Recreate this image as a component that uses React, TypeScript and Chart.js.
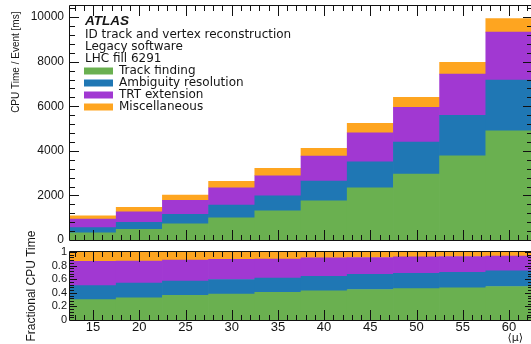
import React, { useEffect, useRef } from "react";
import { Chart, registerables } from "chart.js";

Chart.register(...registerables);

// ---- data ----
const muCenters = [15, 20, 25, 30, 35, 40, 45, 50, 55, 60];
const trackFinding = [327, 480, 731, 1000, 1314, 1762, 2345, 2959, 3780, 4901];
const ambiguityResolution = [225, 314, 421, 569, 668, 884, 1166, 1435, 1812, 2273];
const trtExtension = [390, 475, 628, 776, 901, 1121, 1300, 1556, 1851, 2153];
const miscellaneous = [148, 197, 238, 287, 332, 345, 422, 449, 525, 614];

const seriesNames = ["Track finding", "Ambiguity resolution", "TRT extension", "Miscellaneous"];
const seriesColors = ["#6ab050", "#1f77b4", "#a138d2", "#fea520"];
const experimentLabel = "ATLAS";
const infoLines = ["ID track and vertex reconstruction", "Legacy software", "LHC fill 6291"];
const topTitle = "CPU Time / Event [ms]";
const bottomTitle = "Fractional CPU Time";
const xTitle = "\u27E8\u03BC\u27E9";

const xTickValues = [15, 20, 25, 30, 35, 40, 45, 50, 55, 60];
const topYTickValues = [0, 2000, 4000, 6000, 8000, 10000];
const botYTickValues = [0, 0.2, 0.4, 0.6, 0.8, 1];

const muMin = 12.5;
const muMax = 62.5;
const topMax = 10500;

const allSeries = [trackFinding, ambiguityResolution, trtExtension, miscellaneous];
const totals = muCenters.map((_, j) => allSeries.reduce((s, arr) => s + arr[j], 0));

const TEXT = "#151515";

function makeFramePlugin(cfg: any) {
  return {
    id: "rootFrame",
    afterDatasetsDraw(chart: any) {
      const { ctx, chartArea: a, scales } = chart;
      const xs = scales.x;
      const ys = scales.y;
      ctx.save();
      ctx.strokeStyle = "#111";
      ctx.lineWidth = 1;
      ctx.beginPath();
      const kx0 = Math.ceil(xs.min / cfg.xStep - 1e-9);
      const kx1 = Math.floor(xs.max / cfg.xStep + 1e-9);
      for (let k = kx0; k <= kx1; k++) {
        const v = k * cfg.xStep;
        const px = Math.round(xs.getPixelForValue(v)) + 0.5;
        const len = k % cfg.xEvery === 0 ? cfg.xMajor : cfg.xMinor;
        ctx.moveTo(px, a.bottom);
        ctx.lineTo(px, a.bottom - len);
        ctx.moveTo(px, a.top);
        ctx.lineTo(px, a.top + len);
      }
      const ky0 = Math.ceil(ys.min / cfg.yStep - 1e-9);
      const ky1 = Math.floor(ys.max / cfg.yStep + 1e-9);
      for (let k = ky0; k <= ky1; k++) {
        const v = k * cfg.yStep;
        const py = Math.round(ys.getPixelForValue(v)) + 0.5;
        const len = k % cfg.yEvery === 0 ? cfg.yMajor : cfg.yMinor;
        ctx.moveTo(a.left, py);
        ctx.lineTo(a.left + len, py);
        ctx.moveTo(a.right, py);
        ctx.lineTo(a.right - len, py);
      }
      const l = Math.round(a.left) - 0.5;
      const r = Math.round(a.right) - 0.5;
      const t = Math.round(a.top) - 0.5;
      const b = Math.round(a.bottom) + 0.5;
      ctx.moveTo(l, t);
      ctx.lineTo(r, t);
      ctx.moveTo(l, b);
      ctx.lineTo(r, b);
      ctx.moveTo(l, t);
      ctx.lineTo(l, b);
      ctx.moveTo(r, t);
      ctx.lineTo(r, b);
      ctx.stroke();
      ctx.restore();
    },
  };
}

const infoPlugin = {
  id: "infoText",
  afterDraw(chart: any) {
    const { ctx, chartArea: a } = chart;
    ctx.save();
    ctx.fillStyle = TEXT;
    ctx.textAlign = "left";
    ctx.textBaseline = "alphabetic";
    ctx.font = 'italic bold 13.5px "Liberation Sans"';
    ctx.fillText(experimentLabel, a.left + 15, a.top + 19);
    ctx.font = '12px "DejaVu Sans"';
    infoLines.forEach((t, i) => ctx.fillText(t, a.left + 15, a.top + 31.5 + i * 12));
    ctx.restore();
  },
};

const legendPlacePlugin = {
  id: "legendPlace",
  beforeDraw(chart: any) {
    const lg = chart.legend;
    if (lg) {
      lg.left = chart.chartArea.left + 14;
      lg.top = chart.chartArea.top + 59;
    }
  },
};

const xTitlePlugin = {
  id: "xTitle",
  afterDraw(chart: any) {
    const { ctx, chartArea: a } = chart;
    ctx.save();
    ctx.fillStyle = TEXT;
    ctx.font = '11px "DejaVu Sans"';
    ctx.textAlign = "right";
    ctx.textBaseline = "middle";
    ctx.fillText(xTitle, a.right - 9, a.bottom + 18);
    ctx.restore();
  },
};

const tickFont = (size: number) => ({ family: "Liberation Sans", size });
const setTicks = (values: number[]) => (s: any) => {
  s.ticks = values.map((value) => ({ value }));
};

export default function App() {
  const topRef = useRef<HTMLCanvasElement>(null);
  const botRef = useRef<HTMLCanvasElement>(null);

  useEffect(() => {
    const topDatasets = allSeries.map((vals, i) => ({
      label: seriesNames[i],
      data: muCenters.map((x, j) => ({ x, y: vals[j] })),
      backgroundColor: seriesColors[i],
      borderWidth: 0,
      barPercentage: 1,
      categoryPercentage: 1,
      stack: "s",
    }));
    const botDatasets = allSeries.map((vals, i) => ({
      label: seriesNames[i],
      data: muCenters.map((x, j) => ({ x, y: vals[j] / totals[j] })),
      backgroundColor: seriesColors[i],
      borderWidth: 0,
      barPercentage: 1,
      categoryPercentage: 1,
      stack: "s",
    }));

    const top = new Chart(topRef.current as HTMLCanvasElement, {
      type: "bar",
      data: { datasets: topDatasets as any },
      options: {
        responsive: false,
        animation: false,
        devicePixelRatio: 1,
        layout: { padding: { top: 6, bottom: 8, left: 0, right: 0 } },
        scales: {
          x: {
            type: "linear",
            min: muMin,
            max: muMax,
            offset: false,
            stacked: true,
            grid: { display: false, drawTicks: false, offset: false },
            border: { display: false },
            ticks: { display: false },
            afterBuildTicks: setTicks(xTickValues),
            afterFit: (s: any) => {
              s.height = 0;
              s.paddingLeft = 0;
              s.paddingRight = 0;
            },
          } as any,
          y: {
            type: "linear",
            min: 0,
            max: topMax,
            stacked: true,
            grid: { display: false, drawTicks: false },
            border: { display: false },
            afterBuildTicks: setTicks(topYTickValues),
            ticks: {
              padding: 6,
              color: TEXT,
              font: tickFont(12),
              autoSkip: false,
              callback: (v: any) => String(v),
            },
            title: {
              display: true,
              text: topTitle + "  ",
              align: "end",
              color: TEXT,
              font: { family: "Liberation Sans", size: 10 },
              padding: { top: 10, bottom: 0 },
            },
            afterFit: (s: any) => {
              s.width = 70;
              s.paddingTop = 0;
              s.paddingBottom = 0;
            },
          } as any,
        },
        plugins: {
          legend: {
            display: true,
            position: "chartArea" as any,
            align: "start",
            labels: {
              boxWidth: 29,
              boxHeight: 7,
              padding: 0,
              color: TEXT,
              font: { family: "DejaVu Sans", size: 12 },
            },
          },
          tooltip: { enabled: false },
        },
      },
      plugins: [
        makeFramePlugin({ xStep: 1, xEvery: 5, xMajor: 10, xMinor: 5, yStep: 400, yEvery: 5, yMajor: 9, yMinor: 5 }),
        infoPlugin,
        legendPlacePlugin,
      ],
    });

    const bot = new Chart(botRef.current as HTMLCanvasElement, {
      type: "bar",
      data: { datasets: botDatasets as any },
      options: {
        responsive: false,
        animation: false,
        devicePixelRatio: 1,
        layout: { padding: { top: 32, bottom: 0, left: 0, right: 0 } },
        scales: {
          x: {
            type: "linear",
            min: muMin,
            max: muMax,
            offset: false,
            stacked: true,
            grid: { display: false, drawTicks: false, offset: false },
            border: { display: false },
            afterBuildTicks: setTicks(xTickValues),
            ticks: {
              padding: 0,
              maxRotation: 0,
              autoSkip: false,
              color: TEXT,
              font: tickFont(13),
              callback: (v: any) => String(v),
            },
            afterFit: (s: any) => {
              s.height = 24;
              s.paddingLeft = 0;
              s.paddingRight = 0;
            },
          } as any,
          y: {
            type: "linear",
            min: 0,
            max: 1,
            stacked: true,
            grid: { display: false, drawTicks: false },
            border: { display: false },
            afterBuildTicks: setTicks(botYTickValues),
            ticks: {
              padding: 3,
              color: TEXT,
              autoSkip: false,
              font: tickFont(11),
              callback: (v: any) => String(Math.round(v * 10) / 10),
            },
            title: {
              display: true,
              text: bottomTitle,
              align: "center",
              color: TEXT,
              font: { family: "Liberation Sans", size: 12 },
              padding: { top: 24, bottom: 0 },
            },
            afterFit: (s: any) => {
              s.width = 70;
              s.paddingTop = 0;
              s.paddingBottom = 0;
            },
          } as any,
        },
        plugins: {
          legend: { display: false },
          tooltip: { enabled: false },
        },
      },
      plugins: [
        makeFramePlugin({ xStep: 1, xEvery: 5, xMajor: 10, xMinor: 5, yStep: 0.04, yEvery: 5, yMajor: 7, yMinor: 4 }),
        xTitlePlugin,
      ],
    });

    return () => {
      top.destroy();
      bot.destroy();
    };
  }, []);

  return (
    <div
      style={{
        position: "fixed",
        left: 0,
        top: 0,
        width: 531,
        height: 344,
        overflow: "hidden",
        background: "#ffffff",
      }}
    >
      <canvas
        ref={topRef}
        width={532}
        height={248}
        style={{ position: "absolute", left: 0, top: 0, width: 532, height: 248 }}
      />
      <canvas
        ref={botRef}
        width={532}
        height={124}
        style={{ position: "absolute", left: 0, top: 220, width: 532, height: 124 }}
      />
    </div>
  );
}
